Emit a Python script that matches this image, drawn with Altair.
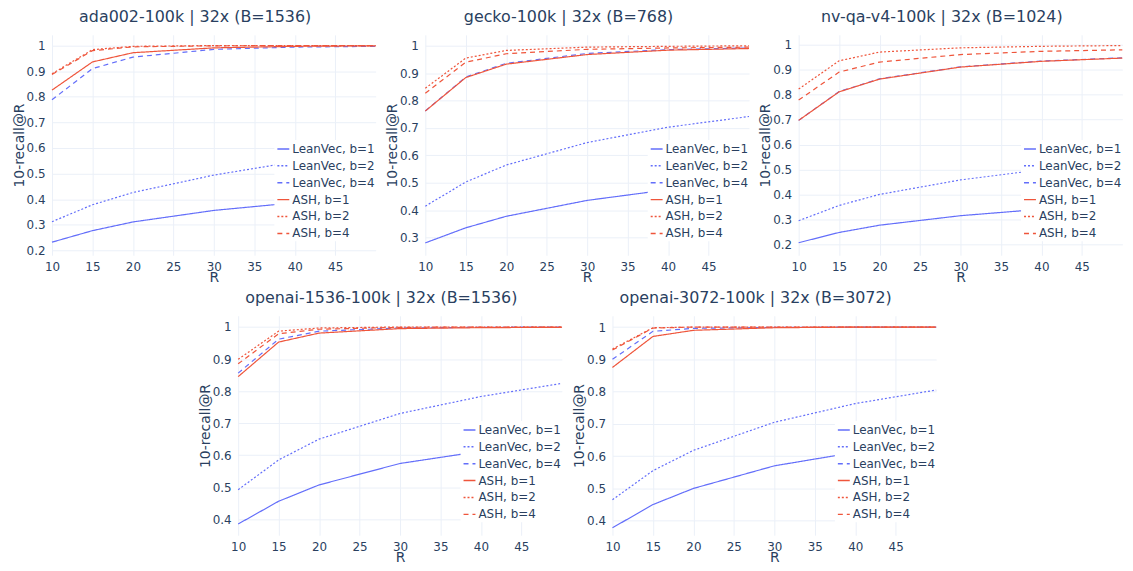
import altair as alt
import pandas as pd

R_VALUES = [10, 15, 20, 30, 40, 50]
SERIES = ["LeanVec, b=1", "LeanVec, b=2", "LeanVec, b=4", "ASH, b=1", "ASH, b=2", "ASH, b=4"]
COLORS = ["#636efa", "#636efa", "#636efa", "#ef553b", "#ef553b", "#ef553b"]
DASHES = [[1, 0], [2, 2], [5, 4], [1, 0], [2, 2], [5, 4]]

PANELS = ["ada002-100k", "gecko-100k", "nv-qa-v4-100k", "openai-1536-100k", "openai-3072-100k"]
TITLES = ["ada002-100k | 32x (B=1536)", "gecko-100k | 32x (B=768)", "nv-qa-v4-100k | 32x (B=1024)",
          "openai-1536-100k | 32x (B=1536)", "openai-3072-100k | 32x (B=3072)"]

# recall values per panel, per series (order of SERIES), at R_VALUES
ada_lv1 = [0.232, 0.277, 0.311, 0.356, 0.386, 0.41]
ada_lv2 = [0.312, 0.378, 0.426, 0.494, 0.546, 0.58]
ada_lv4 = [0.788, 0.910, 0.955, 0.985, 0.994, 0.997]
ada_ash1 = [0.826, 0.936, 0.972, 0.991, 0.997, 0.999]
ada_ash2 = [0.890, 0.984, 0.997, 1.0, 1.0, 1.0]
ada_ash4 = [0.887, 0.980, 0.995, 0.999, 1.0, 1.0]

gecko_lv1 = [0.281, 0.336, 0.378, 0.436, 0.475, 0.50]
gecko_lv2 = [0.415, 0.503, 0.565, 0.647, 0.703, 0.742]
gecko_lv4 = [0.762, 0.886, 0.936, 0.972, 0.986, 0.992]
gecko_ash1 = [0.762, 0.884, 0.933, 0.968, 0.984, 0.990]
gecko_ash2 = [0.845, 0.955, 0.983, 0.995, 0.998, 1.0]
gecko_ash4 = [0.827, 0.940, 0.971, 0.987, 0.992, 0.995]

nvqa_lv1 = [0.208, 0.249, 0.278, 0.316, 0.342, 0.36]
nvqa_lv2 = [0.296, 0.357, 0.401, 0.459, 0.50, 0.53]
nvqa_lv4 = [0.697, 0.812, 0.863, 0.911, 0.934, 0.947]
nvqa_ash1 = [0.697, 0.811, 0.862, 0.910, 0.933, 0.946]
nvqa_ash2 = [0.822, 0.935, 0.970, 0.987, 0.993, 0.996]
nvqa_ash4 = [0.778, 0.890, 0.930, 0.960, 0.973, 0.979]

o1536_lv1 = [0.385, 0.456, 0.507, 0.574, 0.612, 0.64]
o1536_lv2 = [0.492, 0.585, 0.650, 0.730, 0.783, 0.824]
o1536_lv4 = [0.856, 0.962, 0.987, 0.997, 0.999, 1.0]
o1536_ash1 = [0.845, 0.953, 0.981, 0.995, 0.998, 0.999]
o1536_ash2 = [0.899, 0.987, 0.997, 1.0, 1.0, 1.0]
o1536_ash4 = [0.885, 0.979, 0.993, 0.999, 1.0, 1.0]

o3072_lv1 = [0.378, 0.450, 0.500, 0.570, 0.612, 0.64]
o3072_lv2 = [0.465, 0.555, 0.618, 0.705, 0.763, 0.805]
o3072_lv4 = [0.900, 0.987, 0.996, 0.999, 1.0, 1.0]
o3072_ash1 = [0.875, 0.971, 0.990, 0.998, 1.0, 1.0]
o3072_ash2 = [0.932, 0.998, 1.0, 1.0, 1.0, 1.0]
o3072_ash4 = [0.929, 0.997, 1.0, 1.0, 1.0, 1.0]

VALUES = {
    "ada002-100k": [ada_lv1, ada_lv2, ada_lv4, ada_ash1, ada_ash2, ada_ash4],
    "gecko-100k": [gecko_lv1, gecko_lv2, gecko_lv4, gecko_ash1, gecko_ash2, gecko_ash4],
    "nv-qa-v4-100k": [nvqa_lv1, nvqa_lv2, nvqa_lv4, nvqa_ash1, nvqa_ash2, nvqa_ash4],
    "openai-1536-100k": [o1536_lv1, o1536_lv2, o1536_lv4, o1536_ash1, o1536_ash2, o1536_ash4],
    "openai-3072-100k": [o3072_lv1, o3072_lv2, o3072_lv4, o3072_ash1, o3072_ash2, o3072_ash4],
}

Y_DOMAINS = [[0.181, 1.042], [0.236, 1.040], [0.158, 1.039], [0.35, 1.035], [0.355, 1.035]]
Y_TICKS = [[0.2, 0.3, 0.4, 0.5, 0.6, 0.7, 0.8, 0.9, 1.0],
           [0.3, 0.4, 0.5, 0.6, 0.7, 0.8, 0.9, 1.0],
           [0.2, 0.3, 0.4, 0.5, 0.6, 0.7, 0.8, 0.9, 1.0],
           [0.4, 0.5, 0.6, 0.7, 0.8, 0.9, 1.0],
           [0.4, 0.5, 0.6, 0.7, 0.8, 0.9, 1.0]]
X_TICKS = [10, 15, 20, 25, 30, 35, 40, 45]

rows = []
for p in PANELS:
    for s, vals in zip(SERIES, VALUES[p]):
        for r, v in zip(R_VALUES, vals):
            rows.append({"panel": p, "series": s, "R": r, "recall": v})
df = pd.DataFrame(rows)

FONT = "DejaVu Sans"
TXT = "#2a3f5f"
W = 326


def panel(i, height):
    name = PANELS[i]
    leg = alt.Legend(title=None, orient="none", legendX=W - 102, legendY=106,
                     fillColor="white", symbolType="stroke", symbolSize=144,
                     symbolStrokeWidth=1.5, labelFontSize=12, labelFont=FONT,
                     labelColor=TXT, padding=2, rowPadding=4, labelOffset=2,
                     labelLimit=300)
    return alt.Chart(df[df.panel == name], title=alt.Title(
        TITLES[i], font=FONT, fontSize=16, fontWeight="normal", color=TXT,
        frame="bounds", anchor="middle", offset=10)).mark_line(strokeWidth=1.2).encode(
        x=alt.X("R:Q", scale=alt.Scale(domain=[10, 50], nice=False, zero=False),
                axis=alt.Axis(values=X_TICKS, title="R", labelFlush=False)),
        y=alt.Y("recall:Q", scale=alt.Scale(domain=Y_DOMAINS[i], nice=False, zero=False),
                axis=alt.Axis(values=Y_TICKS[i], format=".1~f", title="10-recall@R",
                              labelFlush=False, minExtent=26, maxExtent=26)),
        color=alt.Color("series:N", scale=alt.Scale(domain=SERIES, range=COLORS), legend=leg),
        strokeDash=alt.StrokeDash("series:N", scale=alt.Scale(domain=SERIES, range=DASHES), legend=leg),
    ).properties(width=W, height=height)


res_s = dict(x="independent", y="independent", color="independent", strokeDash="independent")
res_l = dict(color="independent", strokeDash="independent")

top = alt.hconcat(panel(0, 222), panel(1, 222), panel(2, 222), spacing=7) \
    .resolve_scale(**res_s).resolve_legend(**res_l)
bottom = alt.hconcat(panel(3, 221), panel(4, 221), spacing=8) \
    .resolve_scale(**res_s).resolve_legend(**res_l)

chart = alt.vconcat(top, bottom, spacing=6, center=True).resolve_scale(**res_s).resolve_legend(**res_l) \
    .properties(padding={"left": 4, "top": -1, "right": 0, "bottom": 0}) \
    .configure_view(stroke=None) \
    .configure_axis(domain=False, ticks=False, tickSize=0, grid=True, gridColor="#EBF0F8", gridWidth=1,
                    labelFont=FONT, labelFontSize=12, labelColor=TXT, labelPadding=7,
                    titleFont=FONT, titleFontSize=14, titleFontWeight="normal", titleColor=TXT,
                    titlePadding=0) \
    .configure_axisX(labelPadding=6, titlePadding=-2)

chart.save("out.html", embed_options={"renderer": "svg", "actions": False})
